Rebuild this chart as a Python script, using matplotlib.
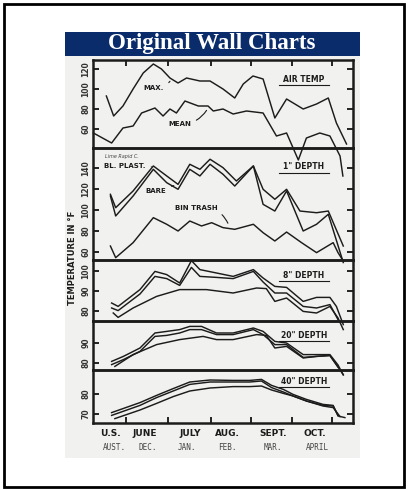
import matplotlib.pyplot as plt
from matplotlib.patches import Rectangle

# Figure size in pixels (dpi 100)
W, H = 410, 490

# Month ticks and labels (x in months from the left edge of the chart)
month_ticks = [0.9, 1.95, 3.0, 4.0, 5.0, 6.0]
us_months = ['U.S.', 'JUNE', 'JULY', 'AUG.', 'SEPT.', 'OCT.']
us_pos = [0.51, 1.37, 2.48, 3.42, 4.53, 5.57]
aus_months = ['AUST.', 'DEC.', 'JAN.', 'FEB.', 'MAR.', 'APRIL']
aus_pos = [0.63, 1.44, 2.41, 3.40, 4.53, 5.62]

# Air temperature (deg F)
air_max_x = [0.42, 0.60, 0.83, 1.08, 1.33, 1.58, 1.78, 1.99, 2.19, 2.40, 2.73, 2.98,
             3.30, 3.59, 3.80, 4.04, 4.29, 4.58, 4.87, 5.28, 5.61, 5.90, 6.10, 6.35]
air_max = [93, 73, 83, 100, 116, 125, 120, 111, 106, 111, 108, 108,
           100, 91, 105, 113, 110, 71, 90, 80, 85, 91, 66, 45]
air_mean_x = [0.10, 0.55, 0.83, 1.08, 1.29, 1.62, 1.82, 1.99, 2.15, 2.36, 2.69, 2.93, 3.06,
              3.30, 3.55, 3.88, 4.29, 4.62, 4.87, 5.16, 5.36, 5.69, 5.94, 6.19, 6.26]
air_mean = [56, 46, 61, 63, 76, 81, 73, 80, 76, 88, 83, 83, 78,
            80, 75, 78, 76, 53, 56, 29, 51, 56, 53, 33, 13]

# 1" depth
d1_plast_x = [0.52, 0.65, 1.08, 1.58, 1.91, 2.19, 2.48, 2.73, 2.98, 3.30, 3.63, 4.05,
              4.29, 4.58, 4.87, 5.20, 5.61, 5.90, 6.27]
d1_plast = [114.9, 102.2, 118.1, 141.9, 132.4, 124.4, 143.5, 138.7, 148.3, 140.3, 127.6, 141.9,
            119.7, 110.2, 119.7, 99, 97.4, 99, 65.7]
d1_bare_x = [0.52, 0.65, 1.08, 1.58, 1.91, 2.19, 2.48, 2.73, 2.98, 3.30, 3.59, 4.05,
             4.29, 4.58, 4.87, 5.28, 5.61, 5.90, 6.27]
d1_bare = [113.3, 94.3, 113.3, 138.7, 126, 119.7, 138.7, 132.4, 143.5, 134, 122.8, 141.9,
           105.4, 99, 118.1, 80, 86.4, 95.9, 50]
d1_trash_x = [0.52, 0.65, 1.08, 1.58, 1.91, 2.19, 2.48, 2.77, 3.02, 3.30, 3.59, 4.05,
              4.29, 4.58, 4.87, 5.24, 5.61, 6.02, 6.14, 6.27]
d1_trash = [65.7, 54.6, 68.9, 92.7, 86.4, 80, 89.5, 84.8, 87.9, 83.2, 81.6, 86.4,
            78.4, 70.5, 79, 68.9, 59.4, 68.9, 59.4, 51.4]

# 8" depth
d8_plast_x = [0.55, 0.71, 1.25, 1.62, 1.91, 2.23, 2.52, 2.73, 3.14, 3.55, 4.05, 4.29,
              4.58, 4.87, 5.28, 5.61, 5.94, 6.10, 6.27]
d8_plast = [84, 82.3, 90.7, 99.8, 98.2, 94, 105.2, 100.7, 99, 97.3, 100.7, 96.5,
            92.3, 91.8, 84.8, 86.8, 86.8, 82.3, 73.2]
d8_bare_x = [0.55, 0.71, 1.25, 1.62, 1.91, 2.23, 2.52, 2.73, 3.14, 3.55, 4.05, 4.29,
             4.58, 4.87, 5.28, 5.61, 5.94, 6.14]
d8_bare = [81.5, 80.2, 88.5, 97.3, 96.2, 92.8, 101.8, 97.3, 96.8, 96.2, 99.8, 94.5,
           89, 89, 82.3, 81.5, 83.2, 75.7]
d8_trash_x = [0.59, 0.71, 1.08, 1.66, 2.23, 2.89, 3.55, 4.13, 4.37, 4.58, 4.87, 5.28,
              5.61, 5.94, 6.14, 6.27]
d8_trash = [79, 76.8, 81.5, 87.3, 90.7, 90.7, 89, 91.5, 91.2, 84.8, 86.5, 79.8,
            79, 82.3, 76.5, 70.7]

# 20" depth
d20_plast_x = [0.55, 0.84, 1.25, 1.62, 1.91, 2.23, 2.48, 2.77, 3.14, 3.55, 4.05, 4.29,
               4.58, 4.87, 5.28, 5.61, 5.94, 6.14, 6.27]
d20_plast = [80.8, 83.3, 87.5, 95, 95.8, 96.7, 98.3, 98.3, 95, 95, 97.5, 95.8,
             90.8, 90, 84.2, 84.2, 84.2, 79, 74]
d20_bare_x = [0.55, 0.84, 1.25, 1.62, 1.91, 2.23, 2.48, 2.77, 3.14, 3.55, 4.05, 4.29,
              4.58, 4.87, 5.28, 5.61, 5.94, 6.14]
d20_bare = [79.2, 81.7, 85.8, 93.3, 93.8, 95, 96.7, 96.7, 94.2, 94.2, 96.7, 94.2,
            89.2, 89.2, 82.8, 83.3, 83.8, 78]
d20_trash_x = [0.63, 1.08, 1.66, 2.23, 2.81, 3.14, 3.55, 4.13, 4.37, 4.58, 4.87, 5.28,
               5.61, 5.94, 6.27]
d20_trash = [78.3, 84.2, 89.2, 91.7, 93.3, 91.7, 91.7, 94.2, 93.8, 87.5, 88.3, 82.5,
             83.3, 83.7, 74.2]

# 40" depth
d40_plast_x = [0.55, 1.25, 1.66, 2.07, 2.48, 2.98, 3.55, 3.96, 4.25, 4.50, 4.79, 5.03,
               5.36, 5.77, 6.02, 6.14, 6.31]
d40_plast = [70.7, 75.7, 79.3, 82.7, 86, 87, 86.8, 86.8, 87.3, 84.3, 82.3, 79.8,
             77.3, 74.8, 74.3, 69, 68.2]
d40_bare_x = [0.55, 1.25, 1.66, 2.07, 2.48, 2.98, 3.55, 3.96, 4.25, 4.50, 4.79, 5.03,
              5.36, 5.77, 6.02, 6.14]
d40_bare = [69.3, 74.3, 78.2, 81.5, 84.8, 86, 86, 86, 86.5, 83.2, 81, 79,
            76.5, 74.3, 74, 69.3]
d40_trash_x = [0.63, 1.25, 1.66, 2.07, 2.48, 2.98, 3.55, 3.96, 4.25, 4.50, 4.79, 5.03,
               5.36, 5.77, 6.02, 6.19]
d40_trash = [67.7, 72, 75.3, 78.7, 81.5, 83, 83.7, 83.7, 84, 82, 80.3, 79,
             76.5, 74, 73.2, 68.7]


def box(x0, y0, x1, y1):
    """pixel box (top-left origin) -> figure fraction rect"""
    return [x0 / W, 1 - y1 / H, (x1 - x0) / W, (y1 - y0) / H]


INK = '#1c1c1c'
PAPER = '#f1f1ef'

fig = plt.figure(figsize=(W / 100, H / 100), dpi=100)
fig.patches.append(Rectangle((4 / W, 1 - 487 / H), 400 / W, 483 / H, transform=fig.transFigure,
                             fill=False, lw=2, ec='black', zorder=-2))
fig.patches.append(Rectangle((65 / W, 1 - 458 / H), 295 / W, 402 / H, transform=fig.transFigure,
                             fc=PAPER, ec='none', zorder=-2))
fig.patches.append(Rectangle((65 / W, 1 - 56 / H), 295 / W, 24 / H, transform=fig.transFigure,
                             fc='#0b2c6b', ec='none', zorder=-2))
fig.text(212 / W, 1 - 43 / H, 'Original Wall Charts', color='white', fontsize=16.5,
         family='Liberation Serif', weight='bold', ha='center', va='center')

# panels: (top px, bottom px, ylim, yticks, title, title y, series)
panels = [
    (60, 148, (41, 129), [60, 80, 100, 120], 'AIR TEMP', 110,
     [(air_max_x, air_max), (air_mean_x, air_mean)]),
    (148, 260, (52.4, 159), [60, 80, 100, 120, 140], '1" DEPTH', 141,
     [(d1_plast_x, d1_plast), (d1_bare_x, d1_bare), (d1_trash_x, d1_trash)]),
    (260, 321, (75, 105.5), [80, 90, 100], '8" DEPTH', 98,
     [(d8_plast_x, d8_plast), (d8_bare_x, d8_bare), (d8_trash_x, d8_trash)]),
    (321, 370, (76.5, 101), [80, 90], '20" DEPTH', 94,
     [(d20_plast_x, d20_plast), (d20_bare_x, d20_bare), (d20_trash_x, d20_trash)]),
    (370, 423, (65.5, 92), [70, 80], '40" DEPTH', 86.5,
     [(d40_plast_x, d40_plast), (d40_bare_x, d40_bare), (d40_trash_x, d40_trash)]),
]

axes = []
for i, (top, bot, ylim, yt, title, ty, series) in enumerate(panels):
    ax = fig.add_axes(box(93, top, 353, bot))
    ax.set_facecolor('none')
    ax.set_xlim(0.09, 6.51)
    ax.set_ylim(*ylim)
    for sx, sy in series:
        ax.plot(sx, sy, color=INK, lw=1.05, clip_on=False, zorder=3)
    for s in ax.spines.values():
        s.set_linewidth(1.8)
        s.set_color(INK)
    ax.set_yticks(yt)
    ax.set_yticklabels([str(v) for v in yt], rotation=90, va='center', fontsize=5.5,
                       weight='bold', color='#333333')
    ax.tick_params(axis='y', direction='in', length=4, width=1.2, left=True, right=True, pad=2)
    ax.set_xticks(month_ticks)
    ax.set_xticklabels([])
    ax.tick_params(axis='x', direction='in', length=4, width=1.2,
                   top=(i == 0), bottom=(i == len(panels) - 1))
    # panel name with an underline ~6 px below it
    ax.text(5.3, ty, title, fontsize=5.5, weight='bold', ha='center', va='center',
            color=INK, zorder=4)
    uy = ty - 6 * (ylim[1] - ylim[0]) / (bot - top)
    ax.plot([4.68, 5.92], [uy, uy], color=INK, lw=0.8)
    axes.append(ax)

a1, a2 = axes[0], axes[1]
lead = dict(arrowstyle='-', lw=0.8, color=INK)
a1.annotate('MAX.', xy=(2.03, 110), xytext=(1.59, 101), fontsize=5, weight='bold', ha='center',
            va='center', color=INK, arrowprops=dict(lead, connectionstyle='arc3,rad=0.3'))
a1.annotate('MEAN', xy=(2.93, 81), xytext=(2.23, 65), fontsize=5, weight='bold', ha='center',
            va='center', color=INK, arrowprops=dict(lead, connectionstyle='arc3,rad=0.3'))
a2.text(0.80, 151, 'Lime Rapid C.', fontsize=3.5, style='italic', ha='center', va='center',
        color='#444444')
a2.annotate('BL. PLAST.', xy=(1.6, 141), xytext=(0.88, 142), fontsize=5, weight='bold',
            ha='center', va='center', color=INK, arrowprops=lead)
a2.annotate('BARE', xy=(2.15, 124), xytext=(1.64, 118), fontsize=5, weight='bold', ha='center',
            va='center', color=INK, arrowprops=lead)
a2.annotate('BIN TRASH', xy=(3.45, 85), xytext=(2.63, 102), fontsize=5, weight='bold',
            ha='center', va='center', color=INK,
            arrowprops=dict(lead, connectionstyle='arc3,rad=-0.4'))

# month labels under the chart
bottom_ax = axes[-1]
for lab, x in zip(us_months, us_pos):
    bottom_ax.text(x, -0.2, lab, transform=bottom_ax.get_xaxis_transform(), fontsize=6.5,
                   weight='bold', ha='center', va='center', color=INK)
for lab, x in zip(aus_months, aus_pos):
    bottom_ax.text(x, -0.46, lab, transform=bottom_ax.get_xaxis_transform(), fontsize=5.5,
                   family='DejaVu Sans Mono', ha='center', va='center', color='#444444')

fig.text(73 / W, 1 - 258 / H, 'TEMPERATURE IN °F', rotation=90, fontsize=6, weight='bold',
         ha='center', va='center', color=INK)

fig.savefig('out.png', dpi=100)
